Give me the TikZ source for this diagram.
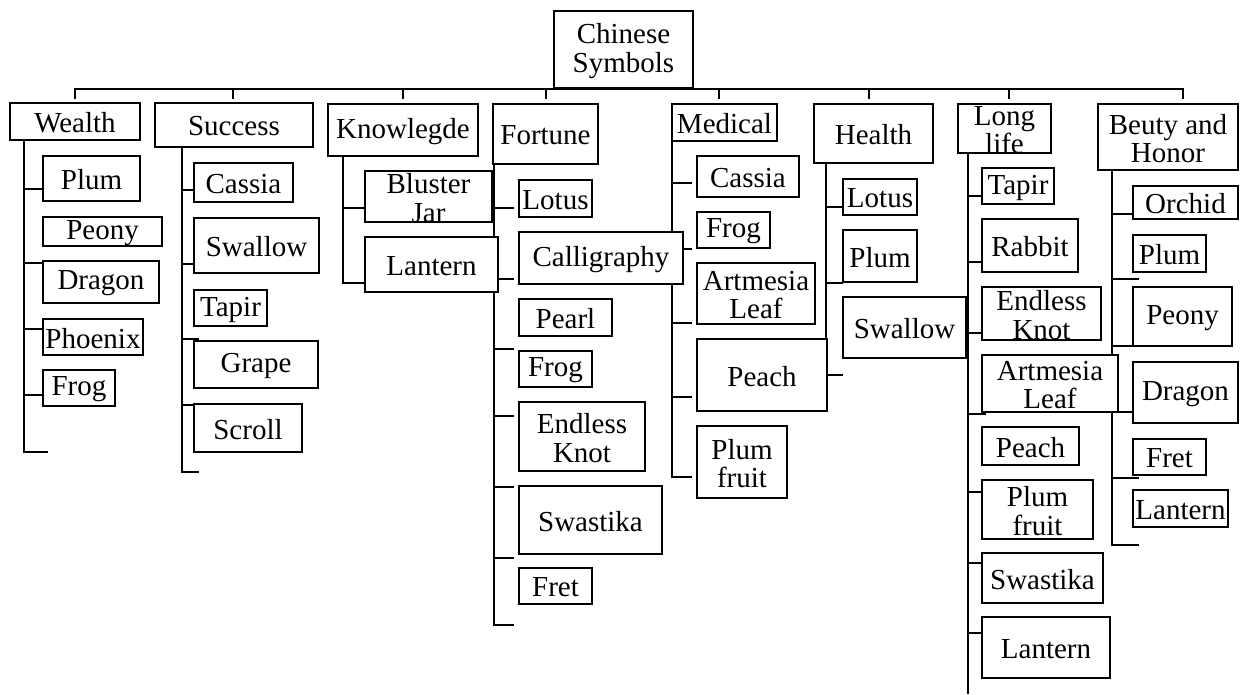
\documentclass[tikz,border=0pt]{standalone}
\usepackage{fontspec}
\setmainfont{Liberation Serif}
\tikzset{
  bx/.style={draw, line width=2.6pt, fill=white, rectangle, inner sep=0pt, outer sep=0pt},
  txt/.style={font=\fontsize{29}{28.5}\selectfont, align=center, inner sep=0pt, outer sep=0pt, yshift=-1.5pt},
  ln/.style={line width=2.7pt}
}
\newcommand\mybox[6]{%
  \pgfmathsetmacro\mbw{#4-#2}\pgfmathsetmacro\mbh{#5-#3}%
  \pgfmathsetmacro\mbx{(#2+#4)/2}\pgfmathsetmacro\mby{(#3+#5)/2}%
  \node[bx, minimum width=\mbw pt, minimum height=\mbh pt,
        path picture={\node[txt] (#1-t) at (path picture bounding box.center) {#6};}]
        (#1) at (\mbx,\mby) {};}
\begin{document}
\begin{tikzpicture}[x=1pt,y=-1pt]
\useasboundingbox (0,0) rectangle (1240,694);

% ---------- connectors ----------
\coordinate (busL) at (75,89);
\coordinate (busR) at (1183,89);
\draw[ln] (75,99) -- (busL) -- (busR) -- (1183,99);
\foreach \x in {233,403,546,719,869,1009} \draw[ln] (\x,89) -- (\x,99);

% Wealth
\draw[ln] (24,140) -- (24,452) -- (48,452);
\foreach \y in {189,263,329,395} \draw[ln] (24,\y) -- (43,\y);
% Success
\draw[ln] (182,147) -- (182,472) -- (199,472);
\foreach \y in {190,264,405} \draw[ln] (182,\y) -- (194,\y);
\draw[ln] (182,339) -- (199,339);
% Knowlegde
\draw[ln] (343,156) -- (343,283) -- (365,283);
\draw[ln] (343,208) -- (365,208);
% Fortune
\draw[ln] (494,164) -- (494,625) -- (514,625);
\foreach \y in {208,279,349,416,487,558} \draw[ln] (494,\y) -- (514,\y);
% Medical
\draw[ln] (672,141) -- (672,477) -- (692,477);
\foreach \y in {183,249,323,397} \draw[ln] (672,\y) -- (692,\y);
% Health
\draw[ln] (826,163) -- (826,375) -- (843,375);
\foreach \y in {207,283} \draw[ln] (826,\y) -- (843,\y);
% Long life
\draw[ln] (968,153) -- (968,694);
\foreach \y in {196,262,333,492,563,633} \draw[ln] (968,\y) -- (982,\y);
\draw[ln] (968,414) -- (986,414);
% Beuty and Honor
\draw[ln] (1112,170) -- (1112,545) -- (1139,545);
\foreach \y in {214,346,412} \draw[ln] (1112,\y) -- (1133,\y);
\foreach \y in {279,478} \draw[ln] (1112,\y) -- (1139,\y);

% ---------- boxes ----------
\mybox{root}{554}{11}{693}{88}{Chinese\\Symbols}

\mybox{wealth}{10}{103}{140}{140}{Wealth}
\mybox{success}{155}{103}{313}{147}{Success}
\mybox{know}{328}{104}{478}{156}{Knowlegde}
\mybox{fortune}{493}{104}{598}{164}{Fortune}
\mybox{medical}{672}{104}{777}{141}{Medical}
\mybox{health}{814}{104}{933}{163}{Health}
\mybox{long}{958}{104}{1051}{153}{Long\\life}
\mybox{beauty}{1098}{104}{1238}{170}{Beuty and\\Honor}

% Wealth
\mybox{w1}{43}{156}{140}{201}{Plum}
\mybox{w2}{43}{217}{162}{246}{Peony}
\mybox{w3}{43}{261}{159}{303}{Dragon}
\mybox{w4}{43}{319}{143}{355}{Phoenix}
\mybox{w5}{43}{370}{115}{406}{Frog}

% Success
\mybox{s1}{194}{163}{293}{202}{Cassia}
\mybox{s2}{194}{218}{319}{273}{Swallow}
\mybox{s3}{194}{290}{267}{326}{Tapir}
\mybox{s4}{194}{341}{318}{388}{Grape}
\mybox{s5}{194}{404}{302}{452}{Scroll}

% Knowlegde
\mybox{k1}{365}{171}{492}{222}{Bluster\\Jar}
\mybox{k2}{365}{237}{498}{292}{Lantern}

% Fortune
\mybox{f1}{519}{180}{592}{217}{Lotus}
\mybox{f2}{519}{232}{683}{284}{Calligraphy}
\mybox{f3}{519}{299}{612}{336}{Pearl}
\mybox{f4}{519}{351}{592}{387}{Frog}
\mybox{f5}{519}{402}{645}{471}{Endless\\Knot}
\mybox{f6}{519}{486}{662}{554}{Swastika}
\mybox{f7}{519}{568}{592}{604}{Fret}

% Medical
\mybox{m1}{697}{156}{799}{197}{Cassia}
\mybox{m2}{697}{212}{770}{248}{Frog}
\mybox{m3}{697}{263}{815}{324}{Artmesia\\Leaf}
\mybox{m4}{697}{339}{827}{411}{Peach}
\mybox{m5}{697}{426}{787}{498}{Plum\\fruit}

% Health
\mybox{h1}{843}{179}{917}{215}{Lotus}
\mybox{h2}{843}{230}{917}{282}{Plum}
\mybox{h3}{843}{297}{966}{358}{Swallow}

% Long life
\mybox{l1}{982}{168}{1054}{204}{Tapir}
\mybox{l2}{982}{219}{1078}{272}{Rabbit}
\mybox{l3}{982}{287}{1101}{340}{Endless\\Knot}
\mybox{l4}{982}{355}{1118}{412}{Artmesia\\Leaf}
\mybox{l5}{982}{427}{1079}{465}{Peach}
\mybox{l6}{982}{480}{1093}{539}{Plum\\fruit}
\mybox{l7}{982}{553}{1103}{603}{Swastika}
\mybox{l8}{982}{617}{1110}{678}{Lantern}

% Beuty and Honor
\mybox{b1}{1133}{186}{1238}{219}{Orchid}
\mybox{b2}{1133}{235}{1206}{272}{Plum}
\mybox{b3}{1133}{287}{1232}{346}{Peony}
\mybox{b4}{1133}{362}{1238}{423}{Dragon}
\mybox{b5}{1133}{439}{1206}{475}{Fret}
\mybox{b6}{1133}{490}{1228}{527}{Lantern}
\end{tikzpicture}
\end{document}
